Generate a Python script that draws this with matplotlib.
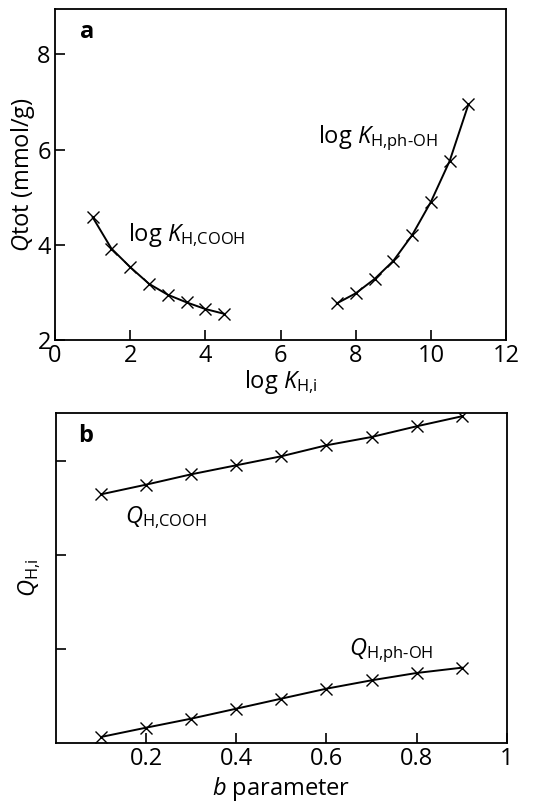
import matplotlib
matplotlib.use('Agg')
import matplotlib.pyplot as plt

plt.rcParams['font.family'] = ['Open Sans', 'DejaVu Sans']
plt.rcParams['mathtext.fontset'] = 'custom'
plt.rcParams['mathtext.rm'] = 'Open Sans'
plt.rcParams['mathtext.it'] = 'Open Sans:italic'
plt.rcParams['mathtext.bf'] = 'Open Sans:bold'

# painel a
logk_cooh = [1.0, 1.5, 2.0, 2.5, 3.0, 3.5, 4.0, 4.5]
qtot_cooh = [4.58, 3.92, 3.53, 3.18, 2.95, 2.79, 2.65, 2.55]
logk_phoh = [7.5, 8.0, 8.5, 9.0, 9.5, 10.0, 10.5, 11.0]
qtot_phoh = [2.77, 2.98, 3.28, 3.66, 4.20, 4.90, 5.76, 6.95]

# painel b
b_param = [0.1, 0.2, 0.3, 0.4, 0.5, 0.6, 0.7, 0.8, 0.9]
q_cooh = [2.645, 2.748, 2.858, 2.954, 3.05, 3.167, 3.255, 3.369, 3.475]
q_phoh = [0.064, 0.163, 0.259, 0.365, 0.472, 0.578, 0.667, 0.745, 0.801]

fs = 17
fig = plt.figure(figsize=(5.53, 8.07), dpi=100)
ax1 = fig.add_axes([0.0995, 0.5787, 0.8156, 0.4101])
ax2 = fig.add_axes([0.101, 0.0793, 0.8156, 0.4089])

estilo = dict(color='black', lw=1.4, marker='x', ms=8, mew=1.0)

# POSIÇÃO 01
ax1.plot(logk_cooh, qtot_cooh, **estilo)
ax1.plot(logk_phoh, qtot_phoh, **estilo)
ax1.set_xlim(0, 12)
ax1.set_ylim(2, 8.95)
ax1.set_xticks([0, 2, 4, 6, 8, 10, 12])
ax1.set_yticks([2, 4, 6, 8])
ax1.set_xlabel(r'log $\mathit{K}_{\mathrm{H{,}i}}$', fontsize=fs, labelpad=0)
ax1.set_ylabel(r'$\mathit{Q}$tot (mmol/g)', fontsize=fs, labelpad=0)
ax1.text(1.95, 4.08, r'log $\mathit{K}_{\mathrm{H{,}COOH}}$', fontsize=fs)
ax1.text(7.0, 6.13, r'log $\mathit{K}_{\mathrm{H{,}ph\text{-}OH}}$', fontsize=fs)
ax1.text(0.055, 0.93, 'a', transform=ax1.transAxes, fontsize=fs,
         fontweight='bold', va='center')

# POSIÇÃO 02
ax2.plot(b_param, q_cooh, **estilo)
ax2.plot(b_param, q_phoh, **estilo)
ax2.set_xlim(0, 1)
ax2.set_ylim(0, 3.51)
ax2.set_xticks([0.2, 0.4, 0.6, 0.8, 1.0])
ax2.set_xticklabels(['0.2', '0.4', '0.6', '0.8', '1'])
ax2.set_yticks([1, 2, 3])
ax2.set_yticklabels([])
ax2.set_xlabel(r'$\mathit{b}$ parameter', fontsize=fs, labelpad=3)
ax2.set_ylabel(r'$\mathit{Q}_{\mathrm{H{,}i}}$', fontsize=fs, labelpad=6)
ax2.text(0.153, 2.34, r'$\mathit{Q}_{\mathrm{H{,}COOH}}$', fontsize=fs)
ax2.text(0.65, 0.94, r'$\mathit{Q}_{\mathrm{H{,}ph\text{-}OH}}$', fontsize=fs)
ax2.text(0.05, 0.93, 'b', transform=ax2.transAxes, fontsize=fs,
         fontweight='bold', va='center')

for ax in (ax1, ax2):
    ax.tick_params(direction='in', length=7, width=1.2, labelsize=fs, pad=3)
    for s in ax.spines.values():
        s.set_linewidth(1.3)

fig.savefig('out.png', dpi=100)
